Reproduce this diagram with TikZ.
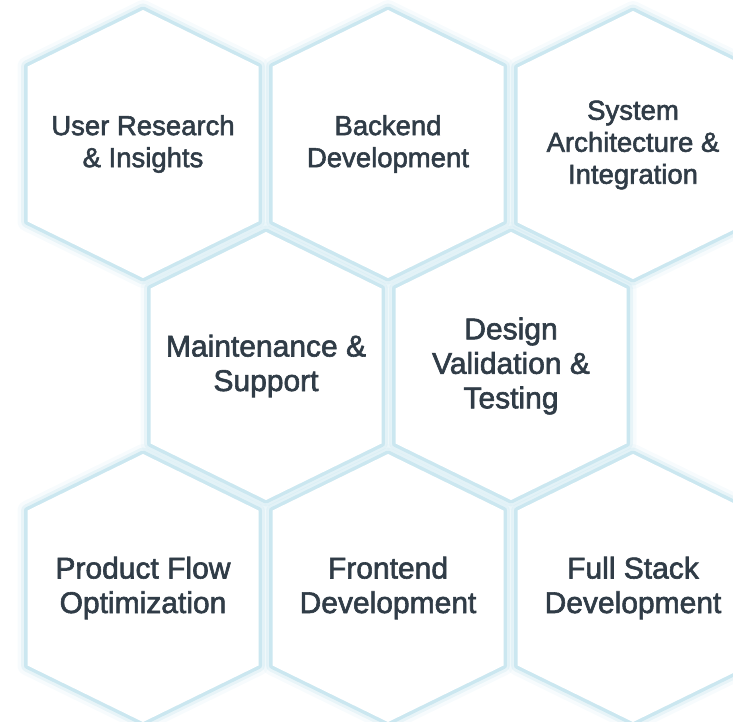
\documentclass[tikz,border=0pt]{standalone}
\usepackage{fontspec}
\setmainfont[FakeBold=2]{Liberation Sans}

\definecolor{hexband}{HTML}{CBE7F0}
\definecolor{hextext}{HTML}{303C47}

\tikzset{
  hexline/.style={draw=hexband, line join=round},
  toplabel/.style={text=hextext, align=center, font=\fontsize{27.5}{32}\selectfont},
  lowlabel/.style={text=hextext, align=center, font=\fontsize{30}{34.5}\selectfont},
}

% one stretched hexagon cell: name, centre, label style, text
\newcommand{\hexcell}[5]{%
  \def\hexpath{(#2,#3) ++(0,-134) -- ++(115.5,56.5) -- ++(0,155) -- ++(-115.5,56.5)
    -- ++(-115.5,-56.5) -- ++(0,-155) -- cycle}
  \draw[hexline, line width=20pt, opacity=0.15] \hexpath;
  \draw[hexline, line width=13pt, opacity=0.35] \hexpath;
  \draw[hexline, line width=7pt] \hexpath;
  \fill[white] \hexpath;
  \node[#4] (#1) at (#2,#3) {#5};
}

\begin{document}
\begin{tikzpicture}[x=1pt, y=-1pt]
  \useasboundingbox (0,0) rectangle (733,722);
  \begin{scope}
    \clip (0,0) rectangle (733,722);
    % top row
    \hexcell{research}{143}{144}{toplabel}{User Research\\\& Insights}
    \hexcell{backend}{388}{144}{toplabel}{Backend\\Development}
    \hexcell{architecture}{633}{145}{toplabel}{System\\Architecture \&\\Integration}
    % middle row
    \hexcell{maintenance}{266}{366}{lowlabel}{Maintenance \&\\Support}
    \hexcell{validation}{511}{366}{lowlabel}{Design\\Validation \&\\Testing}
    % bottom row
    \hexcell{flow}{143}{588}{lowlabel}{Product Flow\\Optimization}
    \hexcell{frontend}{388}{588}{lowlabel}{Frontend\\Development}
    \hexcell{fullstack}{633}{588}{lowlabel}{Full Stack\\Development}
  \end{scope}
\end{tikzpicture}
\end{document}
